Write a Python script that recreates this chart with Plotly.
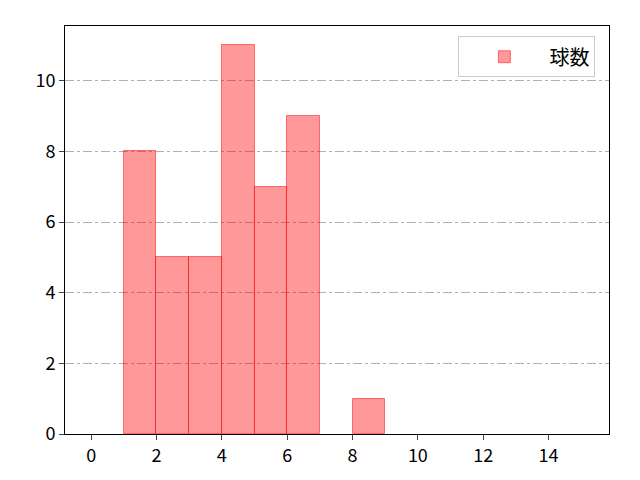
import plotly.graph_objects as go

# histogram bins (left edge, width 1) and counts
bin_left = [1, 2, 3, 4, 5, 6, 8]
counts = [8, 5, 5, 11, 7, 9, 1]
x_ticks = [0, 2, 4, 6, 8, 10, 12, 14]
y_ticks = [0, 2, 4, 6, 8, 10]

fig = go.Figure()
fig.add_trace(go.Bar(
    x=bin_left, y=counts, width=1, offset=0,
    name="球数",
    marker=dict(color="rgba(255,0,0,0.4)",
                line=dict(color="rgba(255,0,0,0.5)", width=1)),
))

fig.update_layout(
    width=640, height=480,
    margin=dict(l=57, r=39, t=18, b=54),
    plot_bgcolor="white", paper_bgcolor="white",
    font=dict(family="Noto Sans CJK JP, DejaVu Sans", size=18, color="black"),
    bargap=0,
    showlegend=True,
    legend=dict(x=0.975, y=0.975, xanchor="right", yanchor="top",
                bgcolor="white", bordercolor="#cccccc", borderwidth=1,
                itemwidth=80, font=dict(size=20)),
)
fig.update_xaxes(range=[-0.8, 15.85], tickvals=x_ticks, ticks="outside",
                 ticklen=5, showgrid=False, zeroline=False,
                 showline=True, linecolor="black", mirror=True)
fig.update_yaxes(range=[0, 11.55], tickvals=y_ticks, ticks="outside",
                 ticklen=5, showgrid=True, gridcolor="#b0b0b0", griddash="dashdot",
                 gridwidth=1, zeroline=False,
                 showline=True, linecolor="black", mirror=True)

fig.write_html("out.html")
